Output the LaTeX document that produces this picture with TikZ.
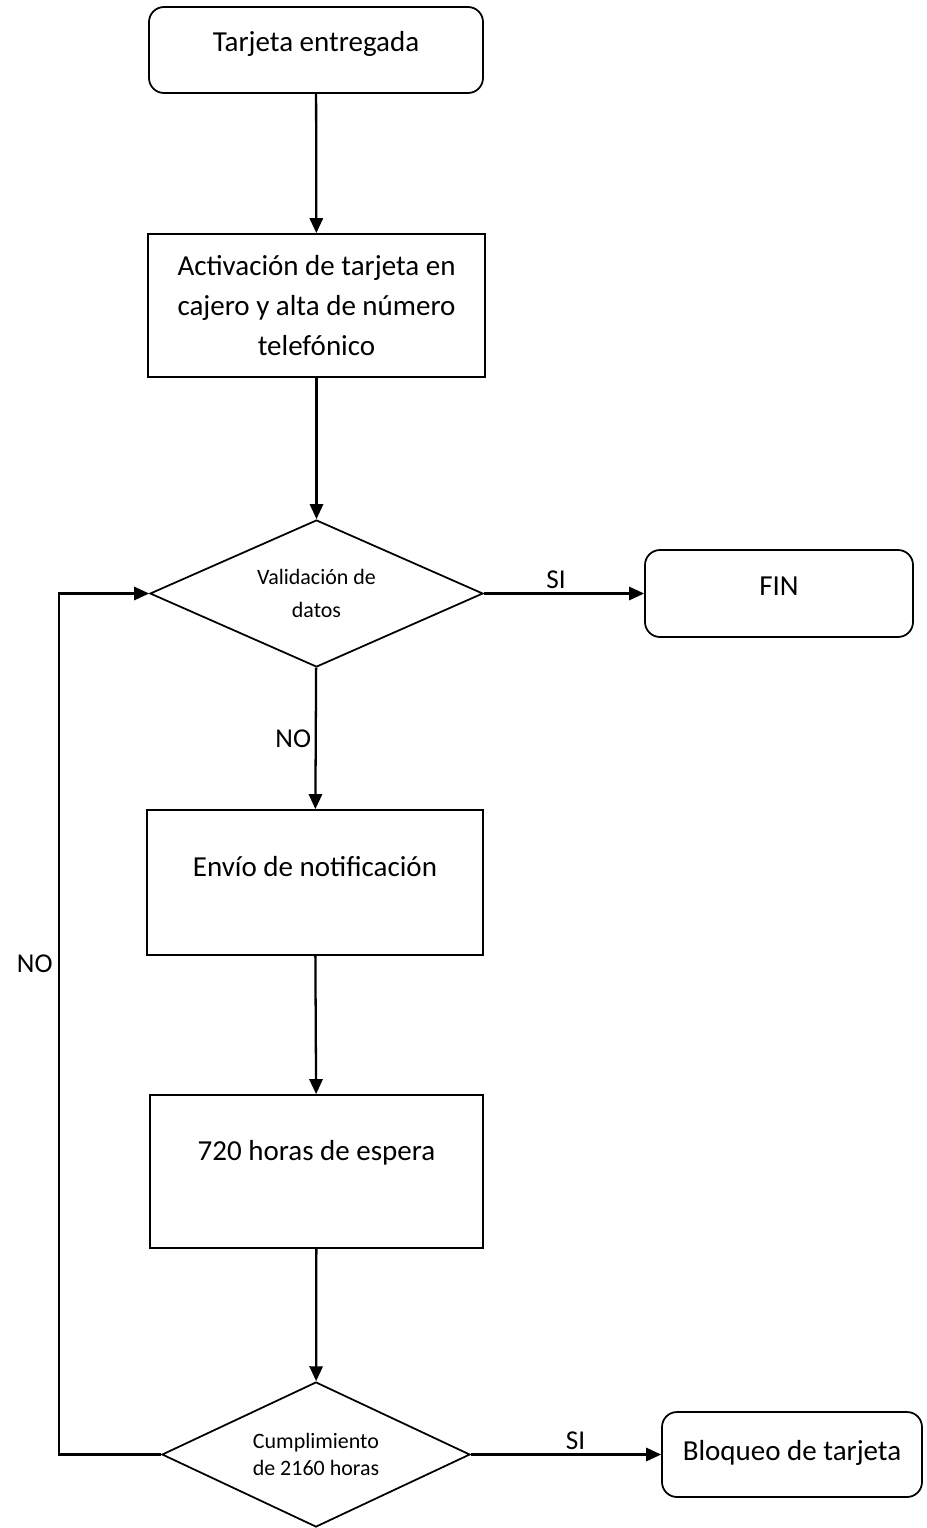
\documentclass[tikz,border=0pt]{standalone}
\usepackage{fontspec}
\setmainfont{Carlito}
\usetikzlibrary{shapes.geometric,arrows.meta}

\begin{document}
\begin{tikzpicture}[
    caja/.style={draw, line width=1pt, rectangle, align=center, inner sep=0pt, font=\fontsize{16.5}{22.8}\selectfont},
    redonda/.style={caja, rounded corners=0.3cm},
    decision/.style={draw, line width=1pt, diamond, inner sep=0pt, align=center},
    alza/.style={text height=12pt, text depth=#1},
    flecha/.style={line width=1.3pt, -{Triangle[length=8.5pt,width=7.5pt]}},
    etiqueta/.style={font=\fontsize{15.5}{18}\selectfont, inner sep=2pt}
]
    \useasboundingbox (0,0) rectangle (18.54,-30.56);

    \node[redonda, alza=10pt, minimum width=6.68cm, minimum height=1.72cm] (tarjeta) at (6.32,-1.00) {Tarjeta entregada};
    \node[caja, minimum width=6.74cm, minimum height=2.86cm] (activa) at (6.33,-6.11) {Activación de tarjeta en\\cajero y alta de número\\telefónico};
    \node[decision, aspect=2.27, minimum width=6.66cm, minimum height=2.94cm, font=\fontsize{12.5}{18.8}\selectfont] (valida) at (6.33,-11.87) {Validación de\\datos};
    \node[redonda, alza=10pt, minimum width=5.36cm, minimum height=1.74cm] (fin) at (15.58,-11.87) {FIN};
    \node[caja, alza=18.5pt, minimum width=6.72cm, minimum height=2.90cm] (envio) at (6.30,-17.65) {Envío de notificación};
    \node[caja, alza=24.5pt, minimum width=6.66cm, minimum height=3.06cm] (espera) at (6.33,-23.43) {720 horas de espera};
    \node[decision, aspect=2.12, minimum width=6.16cm, minimum height=2.90cm, font=\fontsize{12.5}{15.4}\selectfont] (cumple) at (6.32,-29.09) {Cumplimiento\\de 2160 horas};
    \node[redonda, alza=5.5pt, minimum width=5.20cm, minimum height=1.70cm] (bloqueo) at (15.84,-29.09) {Bloqueo de tarjeta};

    \coordinate (vuelta) at (1.18,0);

    \draw[flecha] (tarjeta) -- (activa);
    \draw[flecha] (activa) -- (valida);
    \draw[flecha] (valida.east) -- node[etiqueta, above, pos=0.45] {SI} (fin.west);
    \draw[flecha] (valida) -- node[etiqueta, left] {NO} (envio);
    \draw[flecha] (envio) -- (espera);
    \draw[flecha] (espera) -- (cumple);
    \draw[flecha] (cumple.east) -- node[etiqueta, above, pos=0.55] {SI} (bloqueo.west);
    \draw[flecha] (cumple.west) -- (cumple.west -| vuelta) -- node[etiqueta, left, pos=0.57, inner sep=3pt] {NO} (valida.west -| vuelta) -- (valida.west);
\end{tikzpicture}
\end{document}
